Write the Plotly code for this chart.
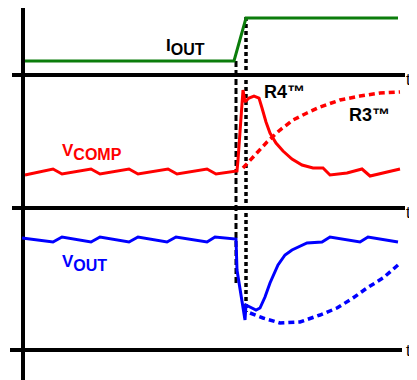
import plotly.graph_objects as go

# schematic load-step waveforms, coordinates in picture units (x right, y down)
iout_x = [25, 234, 246, 398]
iout_y = [61, 61, 18, 18]

vcomp_x = [25, 53, 62, 91, 100, 129, 138, 168, 177, 207, 216, 237, 238, 240, 242, 243,
           245, 249, 254, 259, 262, 266, 270, 276, 283, 292, 302, 313, 323, 330, 347, 362, 370, 400]
vcomp_y = [175, 169, 174, 169, 174, 169, 174, 169, 174, 169, 174, 171, 160, 130, 105, 90,
           102, 98, 96, 98, 108, 122, 133, 143, 151, 159, 165, 168, 168, 175, 173, 169, 176, 169]

vcomp_r3_x = [243, 253, 267, 280, 293, 307, 320, 340, 360, 380, 400]
vcomp_r3_y = [168, 157, 142, 130, 120, 113, 107, 100, 96, 93, 92]

vout_x = [22, 53, 62, 91, 100, 129, 138, 167, 176, 207, 215, 236, 237, 240, 245, 246,
          250, 256, 260, 265, 270, 278, 285, 292, 307, 322, 330, 360, 368, 398]
vout_y = [238, 242, 237, 242, 237, 242, 237, 242, 237, 242, 237, 239, 270, 290, 320, 305,
          307, 310, 308, 297, 283, 265, 255, 250, 243, 242, 237, 242, 237, 242]

vout_r3_x = [250, 263, 280, 300, 320, 337, 353, 367, 383, 398]
vout_r3_y = [313, 318, 323, 322, 315, 308, 298, 288, 278, 265]

# time axes (baselines) and marker lines
axis_y = [75, 208, 350]
axis_x0 = [12, 12, 10]
axis_x1 = [405, 405, 402]
marker_x = [236, 246]
marker_top = [61, 17]
marker_bottom = [285, 312]

# time-axis "t" labels at the right edge
t_x = [406, 406, 406]
t_y = [81, 214, 352]
t_text = ["t", "t", "t"]

GREEN = "#0b7d0b"
RED = "#ff0000"
BLUE = "#0000ff"

# the page body keeps its default 8px margin, so the figure is shifted by that much
PAD = 8

fig = go.Figure()

# vertical axis
fig.add_trace(go.Scatter(x=[23, 23], y=[6, 380], mode="lines",
                         line=dict(color="black", width=4), showlegend=False))
for y, x0, x1 in zip(axis_y, axis_x0, axis_x1):
    fig.add_trace(go.Scatter(x=[x0, x1], y=[y, y], mode="lines",
                             line=dict(color="black", width=4), showlegend=False))

fig.add_trace(go.Scatter(x=[marker_x[0]] * 2, y=[marker_top[0], marker_bottom[0]], mode="lines",
                         line=dict(color="black", width=3, dash="6px,3px"), showlegend=False))
fig.add_trace(go.Scatter(x=[marker_x[1]] * 2, y=[marker_top[1], marker_bottom[1]], mode="lines",
                         line=dict(color="black", width=3.5, dash="4px,3px"), showlegend=False))

fig.add_trace(go.Scatter(x=iout_x, y=iout_y, mode="lines",
                         line=dict(color=GREEN, width=3), showlegend=False))
fig.add_trace(go.Scatter(x=vcomp_r3_x, y=vcomp_r3_y, mode="lines",
                         line=dict(color=RED, width=3.5, dash="6px,4px"), showlegend=False))
fig.add_trace(go.Scatter(x=vcomp_x, y=vcomp_y, mode="lines",
                         line=dict(color=RED, width=3), showlegend=False))
fig.add_trace(go.Scatter(x=vout_r3_x, y=vout_r3_y, mode="lines",
                         line=dict(color=BLUE, width=3.5, dash="6px,4px"), showlegend=False))
fig.add_trace(go.Scatter(x=vout_x, y=vout_y, mode="lines",
                         line=dict(color=BLUE, width=3), showlegend=False))

font = "Liberation Sans, Arial, sans-serif"

fig.add_trace(go.Scatter(x=t_x, y=t_y, text=t_text, mode="text", textposition="middle right",
                         cliponaxis=False, showlegend=False, hoverinfo="skip",
                         textfont=dict(family=font, size=16, color="black")))


def label(x, y, text, color, size=17):
    fig.add_annotation(x=x, y=y, text=text, showarrow=False, xanchor="left", yanchor="middle",
                       borderpad=0, font=dict(family=font, size=size, color=color))


sub = '<sub><span style="font-size:16px">{}</span></sub>'
label(165, 47, "<b>I" + sub.format("OUT") + "</b>", "black")
label(61, 152, "<b>V" + sub.format("COMP") + "</b>", RED)
label(61, 263, "<b>V" + sub.format("OUT") + "</b>", BLUE)
label(263, 92, "<b>R4™</b>", "black", 18)
label(348, 115, "<b>R3™</b>", "black", 18)

fig.update_xaxes(range=[PAD, 417], visible=False)
fig.update_yaxes(range=[380, PAD], visible=False)
fig.update_layout(width=417 - PAD, height=380 - PAD, margin=dict(l=0, r=0, t=0, b=0),
                  plot_bgcolor="white", paper_bgcolor="white")

fig.write_html("out.html")
